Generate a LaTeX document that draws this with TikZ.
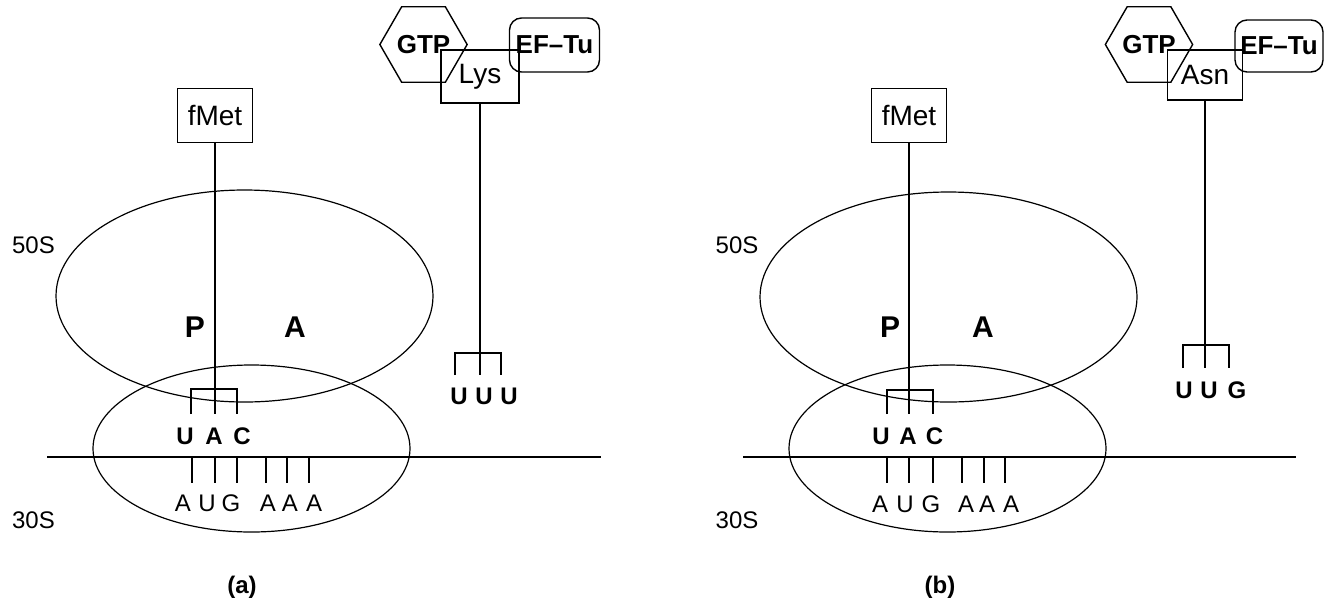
\documentclass[tikz,border=0pt]{standalone}
\usepackage{fontspec}
\setmainfont{Liberation Sans}
\usetikzlibrary{shapes.geometric}
\begin{document}
\begin{tikzpicture}[x=1pt,y=-1pt,line width=1.4pt,
  lbl/.style={font=\fontsize{24}{26}\selectfont,inner sep=0pt},
  blbl/.style={font=\bfseries\fontsize{24}{26}\selectfont,inner sep=0pt},
  site/.style={font=\bfseries\fontsize{30}{32}\selectfont,inner sep=0pt},
  aabox/.style={draw,minimum width=75pt,minimum height=54pt,inner sep=0pt,font=\fontsize{28}{30}\selectfont},
  gtp/.style={draw,regular polygon,regular polygon sides=6,minimum size=77pt,inner sep=0pt,font=\bfseries\fontsize{26}{28}\selectfont},
  eftu/.style={draw,rounded corners=12pt,minimum width=90pt,minimum height=54pt,inner sep=0pt,font=\bfseries\fontsize{26}{28}\selectfont},
  sub/.style={draw,ellipse,inner sep=0pt,line width=1.2pt}]
\useasboundingbox (0,0) rectangle (1330,603);
\fill[white] (0,0) rectangle (1330,603);

% ---------------- panel (a) ----------------
\node[sub,minimum width=377pt,minimum height=212pt] (s50a) at (244.5,296) {};
\node[sub,minimum width=317pt,minimum height=167pt] (s30a) at (251.5,448.5) {};
\node[lbl] (l50a) at (33.5,245) {50S};
\node[lbl] (l30a) at (33.5,520) {30S};
\node[site] (pa) at (195,327) {P};
\node[site] (aa) at (295,327) {A};
\node[aabox] (fmeta) at (215,115.5) {fMet};
\coordinate (sa) at (215,414);
\draw (fmeta.south) -- (sa);
\coordinate (ba1) at (191,389);
\coordinate (ba3) at (237,389);
\draw ([yshift=-25pt]ba1) -- (ba1) -- (ba3) -- ([yshift=-25pt]ba3);
\node[blbl] (aca1) at (185,436) {U};
\node[blbl] (aca2) at (214,436) {A};
\node[blbl] (aca3) at (242,436) {C};
\coordinate (ma1) at (47,457);
\coordinate (ma2) at (601,457);
\draw (ma1) -- (ma2);
\foreach \x [count=\i] in {192,215,237,266,287,309} {
  \coordinate (ta\i) at (\x,457);
  \draw (ta\i) -- ([yshift=-26pt]ta\i);
}
\foreach \x/\t [count=\i] in {183/A,207/U,231/G,268/A,290/A,314/A}
  \node[lbl] (ca\i) at (\x,503) {\t};

\node[gtp] (gtpa) at (423.5,44.5) {GTP};
\node[eftu] (efa) at (554.5,45) {EF--Tu};
\node[aabox,minimum width=78pt,minimum height=53pt] (lys) at (480,76.5) {Lys};
\coordinate (ua) at (480,375);
\draw (lys.south) -- (ua);
\coordinate (bb1) at (455,353);
\coordinate (bb3) at (501,353);
\draw ([yshift=-22pt]bb1) -- (bb1) -- (bb3) -- ([yshift=-22pt]bb3);
\node[blbl] (ka1) at (459,396) {U};
\node[blbl] (ka2) at (484,396) {U};
\node[blbl] (ka3) at (509,396) {U};
\node[blbl] (capa) at (242,587) {(a)};

% ---------------- panel (b) ----------------
\node[sub,minimum width=377pt,minimum height=210pt] (s50b) at (948.5,297) {};
\node[sub,minimum width=317pt,minimum height=167pt] (s30b) at (947.5,448.5) {};
\node[lbl] (l50b) at (737,245) {50S};
\node[lbl] (l30b) at (737,520) {30S};
\node[site] (pb) at (890,327) {P};
\node[site] (ab) at (983,327) {A};
\node[aabox] (fmetb) at (909,115.5) {fMet};
\coordinate (sb) at (909,414);
\draw (fmetb.south) -- (sb);
\coordinate (bc1) at (887,390);
\coordinate (bc3) at (933,390);
\draw ([yshift=-24pt]bc1) -- (bc1) -- (bc3) -- ([yshift=-24pt]bc3);
\node[blbl] (acb1) at (881,436) {U};
\node[blbl] (acb2) at (908,436) {A};
\node[blbl] (acb3) at (934.5,436) {C};
\coordinate (mb1) at (743,457);
\coordinate (mb2) at (1296,457);
\draw (mb1) -- (mb2);
\foreach \x [count=\i] in {887,909,933,962,984,1005} {
  \coordinate (tb\i) at (\x,457);
  \draw (tb\i) -- ([yshift=-26pt]tb\i);
}
\foreach \x/\t [count=\i] in {880/A,905/U,931/G,966/A,987/A,1011/A}
  \node[lbl] (cb\i) at (\x,504) {\t};

\node[gtp] (gtpb) at (1149,44.5) {GTP};
\node[eftu,minimum width=88pt,minimum height=52pt] (efb) at (1279,46) {EF--Tu};
\node[aabox,minimum width=75pt,minimum height=50pt] (asn) at (1205,75) {Asn};
\coordinate (ub) at (1205,368);
\draw (asn.south) -- (ub);
\coordinate (bd1) at (1183,345);
\coordinate (bd3) at (1229,345);
\draw ([yshift=-23pt]bd1) -- (bd1) -- (bd3) -- ([yshift=-23pt]bd3);
\node[blbl] (kb1) at (1184,390) {U};
\node[blbl] (kb2) at (1209,390) {U};
\node[blbl] (kb3) at (1237,390) {G};
\node[blbl] (capb) at (940,587) {(b)};
\end{tikzpicture}
\end{document}
